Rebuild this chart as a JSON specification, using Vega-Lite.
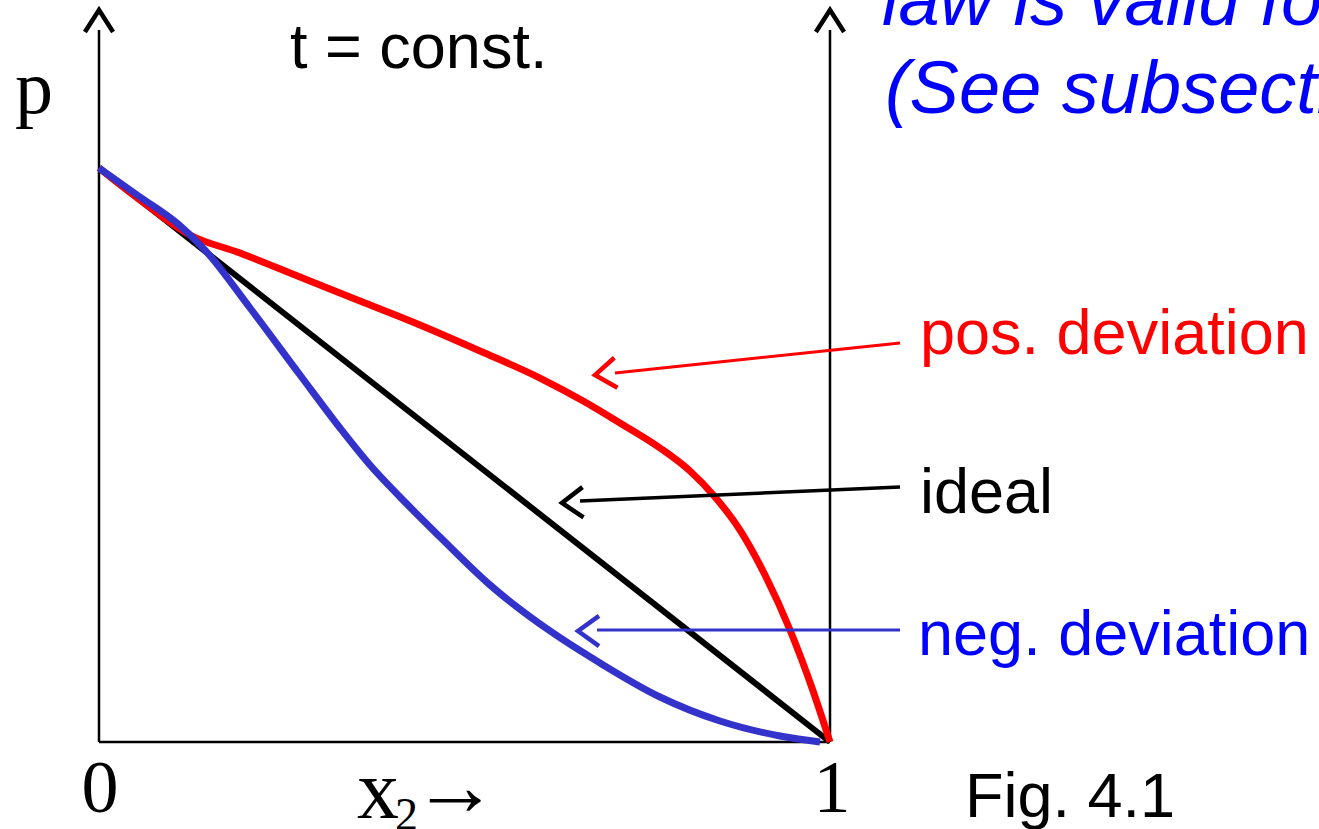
{
  "$schema": "https://vega.github.io/schema/vega-lite/v6.json",
  "width": 1319,
  "height": 829,
  "autosize": {"type": "none"},
  "padding": 0,
  "background": "#ffffff",
  "config": {"view": {"stroke": null}},
  "datasets": {
    "curves": [
      {"series": "ideal", "i": 0, "x2mol": 0, "p": 1},
      {"series": "ideal", "i": 1, "x2mol": 1, "p": 0},
      {"series": "pos", "i": 0, "x2mol": 0, "p": 1},
      {"series": "pos", "i": 1, "x2mol": 0.0561, "p": 0.9443},
      {"series": "pos", "i": 2, "x2mol": 0.1245, "p": 0.8833},
      {"series": "pos", "i": 3, "x2mol": 0.1929, "p": 0.8519},
      {"series": "pos", "i": 4, "x2mol": 0.275, "p": 0.8101},
      {"series": "pos", "i": 5, "x2mol": 0.357, "p": 0.7683},
      {"series": "pos", "i": 6, "x2mol": 0.4391, "p": 0.7265},
      {"series": "pos", "i": 7, "x2mol": 0.5212, "p": 0.6812},
      {"series": "pos", "i": 8, "x2mol": 0.6033, "p": 0.6341},
      {"series": "pos", "i": 9, "x2mol": 0.6648, "p": 0.5923},
      {"series": "pos", "i": 10, "x2mol": 0.7127, "p": 0.5557},
      {"series": "pos", "i": 11, "x2mol": 0.7674, "p": 0.5122},
      {"series": "pos", "i": 12, "x2mol": 0.8085, "p": 0.4721},
      {"series": "pos", "i": 13, "x2mol": 0.8427, "p": 0.4268},
      {"series": "pos", "i": 14, "x2mol": 0.8769, "p": 0.3693},
      {"series": "pos", "i": 15, "x2mol": 0.9111, "p": 0.2909},
      {"series": "pos", "i": 16, "x2mol": 0.9453, "p": 0.1951},
      {"series": "pos", "i": 17, "x2mol": 0.9754, "p": 0.0941},
      {"series": "pos", "i": 18, "x2mol": 1, "p": 0},
      {"series": "neg", "i": 0, "x2mol": 0, "p": 1},
      {"series": "neg", "i": 1, "x2mol": 0.0561, "p": 0.9495},
      {"series": "neg", "i": 2, "x2mol": 0.1081, "p": 0.9024},
      {"series": "neg", "i": 3, "x2mol": 0.145, "p": 0.8571},
      {"series": "neg", "i": 4, "x2mol": 0.2066, "p": 0.7561},
      {"series": "neg", "i": 5, "x2mol": 0.275, "p": 0.6394},
      {"series": "neg", "i": 6, "x2mol": 0.3297, "p": 0.547},
      {"series": "neg", "i": 7, "x2mol": 0.3707, "p": 0.4826},
      {"series": "neg", "i": 8, "x2mol": 0.4118, "p": 0.4268},
      {"series": "neg", "i": 9, "x2mol": 0.4665, "p": 0.3571},
      {"series": "neg", "i": 10, "x2mol": 0.5349, "p": 0.2735},
      {"series": "neg", "i": 11, "x2mol": 0.617, "p": 0.1934},
      {"series": "neg", "i": 12, "x2mol": 0.6854, "p": 0.1376},
      {"series": "neg", "i": 13, "x2mol": 0.7674, "p": 0.0784},
      {"series": "neg", "i": 14, "x2mol": 0.8495, "p": 0.0366},
      {"series": "neg", "i": 15, "x2mol": 0.9316, "p": 0.0105},
      {"series": "neg", "i": 16, "x2mol": 0.9863, "p": 0}
    ],
    "frame": [
      {"part": "left", "xa": 0, "xb": 0, "ya": 0, "yb": 1.2404},
      {"part": "right", "xa": 1, "xb": 1, "ya": 0, "yb": 1.2404},
      {"part": "bottom", "xa": 0, "xb": 1, "ya": 0, "yb": 0}
    ],
    "tips": [
      {"part": "left", "x": 0, "y": 1.2753},
      {"part": "right", "x": 1, "y": 1.2753}
    ],
    "pointers": [
      {"name": "pos", "xa": 0.7059, "ya": 0.6429, "xb": 1.0958, "yb": 0.6951, "tipx": 0.6785, "tipy": 0.6394},
      {"name": "ideal", "xa": 0.658, "ya": 0.4199, "xb": 1.0958, "yb": 0.4443, "tipx": 0.6334, "tipy": 0.4164},
      {"name": "neg", "xa": 0.6813, "ya": 0.1951, "xb": 1.0958, "yb": 0.1951, "tipx": 0.6553, "tipy": 0.1934}
    ],
    "labels": [
      {"role": "black", "label": "t = const.", "x": 0.2613, "y": 1.1742},
      {"role": "black", "label": "ideal", "x": 1.1231, "y": 0.399},
      {"role": "black", "label": "Fig. 4.1", "x": 1.1847, "y": -0.1307},
      {"role": "red", "label": "pos. deviation", "x": 1.1231, "y": 0.676},
      {"role": "blue", "label": "neg. deviation", "x": 1.1204, "y": 0.1516},
      {"role": "note", "label": "law is valid for", "x": 1.0711, "y": 1.2491},
      {"role": "note", "label": "(See subsection", "x": 1.0752, "y": 1.0958},
      {"role": "tick", "label": "0", "x": 0.0014, "y": -0.122},
      {"role": "tick", "label": "1", "x": 1.0027, "y": -0.122},
      {"role": "ptitle", "label": "p", "x": -0.1149, "y": 1.0958},
      {"role": "xtitle", "label": "x", "x": 0.3529, "y": -0.1324},
      {"role": "xsub", "label": "2", "x": 0.4049, "y": -0.1533},
      {"role": "xarrow", "label": "→", "x": 0.4282, "y": -0.0819}
    ]
  },
  "encoding": {
    "x": {"type": "quantitative", "scale": {"domain": [-0.135431, 1.668947], "nice": false, "zero": false}, "axis": null},
    "y": {"type": "quantitative", "scale": {"domain": [-0.151568, 1.292683], "nice": false, "zero": false}, "axis": null}
  },
  "layer": [
    {
      "data": {"name": "frame"},
      "mark": {"type": "rule", "color": "#000000", "strokeWidth": 2.5},
      "encoding": {
        "x": {"field": "xa", "type": "quantitative"},
        "x2": {"field": "xb"},
        "y": {"field": "ya", "type": "quantitative"},
        "y2": {"field": "yb"}
      }
    },
    {
      "data": {"name": "tips"},
      "mark": {"type": "point", "shape": "M-0.64,1 L0,0 L0.64,1", "size": 1936, "filled": false, "stroke": "#000000", "strokeWidth": 4.5, "strokeJoin": "miter", "strokeCap": "butt", "opacity": 1},
      "encoding": {
        "x": {"field": "x", "type": "quantitative"},
        "y": {"field": "y", "type": "quantitative"}
      }
    },
    {
      "data": {"name": "curves"},
      "transform": [{"filter": "datum.series === 'ideal'"}],
      "mark": {"type": "line", "color": "#000000", "strokeWidth": 6},
      "encoding": {
        "x": {"field": "x2mol", "type": "quantitative"},
        "y": {"field": "p", "type": "quantitative"},
        "order": {"field": "i", "type": "quantitative"}
      }
    },
    {
      "data": {"name": "curves"},
      "transform": [{"filter": "datum.series === 'pos'"}],
      "mark": {"type": "line", "color": "#ff0000", "strokeWidth": 7, "interpolate": "monotone"},
      "encoding": {
        "x": {"field": "x2mol", "type": "quantitative"},
        "y": {"field": "p", "type": "quantitative"},
        "order": {"field": "i", "type": "quantitative"}
      }
    },
    {
      "data": {"name": "curves"},
      "transform": [{"filter": "datum.series === 'neg'"}],
      "mark": {"type": "line", "color": "#3333cc", "strokeWidth": 7, "interpolate": "monotone"},
      "encoding": {
        "x": {"field": "x2mol", "type": "quantitative"},
        "y": {"field": "p", "type": "quantitative"},
        "order": {"field": "i", "type": "quantitative"}
      }
    },
    {
      "data": {"name": "pointers"},
      "transform": [{"filter": "datum.name === 'pos'"}],
      "layer": [
        {"mark": {"type": "rule", "color": "#ff0000", "strokeWidth": 3},
         "encoding": {"x": {"field": "xa", "type": "quantitative"}, "x2": {"field": "xb"}, "y": {"field": "ya", "type": "quantitative"}, "y2": {"field": "yb"}}},
        {"mark": {"type": "point", "shape": "M1,-0.72 L0,0 L1,0.72", "size": 1764, "angle": -6, "filled": false, "stroke": "#ff0000", "strokeWidth": 4.5, "strokeJoin": "miter", "opacity": 1},
         "encoding": {"x": {"field": "tipx", "type": "quantitative"}, "y": {"field": "tipy", "type": "quantitative"}}}
      ]
    },
    {
      "data": {"name": "pointers"},
      "transform": [{"filter": "datum.name === 'ideal'"}],
      "layer": [
        {"mark": {"type": "rule", "color": "#000000", "strokeWidth": 3.5},
         "encoding": {"x": {"field": "xa", "type": "quantitative"}, "x2": {"field": "xb"}, "y": {"field": "ya", "type": "quantitative"}, "y2": {"field": "yb"}}},
        {"mark": {"type": "point", "shape": "M1,-0.72 L0,0 L1,0.72", "size": 1764, "angle": -2, "filled": false, "stroke": "#000000", "strokeWidth": 4.5, "strokeJoin": "miter", "opacity": 1},
         "encoding": {"x": {"field": "tipx", "type": "quantitative"}, "y": {"field": "tipy", "type": "quantitative"}}}
      ]
    },
    {
      "data": {"name": "pointers"},
      "transform": [{"filter": "datum.name === 'neg'"}],
      "layer": [
        {"mark": {"type": "rule", "color": "#3333cc", "strokeWidth": 3},
         "encoding": {"x": {"field": "xa", "type": "quantitative"}, "x2": {"field": "xb"}, "y": {"field": "ya", "type": "quantitative"}, "y2": {"field": "yb"}}},
        {"mark": {"type": "point", "shape": "M1,-0.72 L0,0 L1,0.72", "size": 1764, "angle": 0, "filled": false, "stroke": "#3333cc", "strokeWidth": 4.5, "strokeJoin": "miter", "opacity": 1},
         "encoding": {"x": {"field": "tipx", "type": "quantitative"}, "y": {"field": "tipy", "type": "quantitative"}}}
      ]
    },
    {
      "data": {"name": "labels"},
      "transform": [{"filter": "datum.role === 'black'"}],
      "mark": {"type": "text", "font": "Liberation Sans", "fontSize": 63, "color": "#000000", "align": "left", "baseline": "alphabetic"},
      "encoding": {"x": {"field": "x", "type": "quantitative"}, "y": {"field": "y", "type": "quantitative"}, "text": {"field": "label"}}
    },
    {
      "data": {"name": "labels"},
      "transform": [{"filter": "datum.role === 'red'"}],
      "mark": {"type": "text", "font": "Liberation Sans", "fontSize": 63, "color": "#ff0000", "align": "left", "baseline": "alphabetic"},
      "encoding": {"x": {"field": "x", "type": "quantitative"}, "y": {"field": "y", "type": "quantitative"}, "text": {"field": "label"}}
    },
    {
      "data": {"name": "labels"},
      "transform": [{"filter": "datum.role === 'blue'"}],
      "mark": {"type": "text", "font": "Liberation Sans", "fontSize": 63, "color": "#0000ff", "align": "left", "baseline": "alphabetic"},
      "encoding": {"x": {"field": "x", "type": "quantitative"}, "y": {"field": "y", "type": "quantitative"}, "text": {"field": "label"}}
    },
    {
      "data": {"name": "labels"},
      "transform": [{"filter": "datum.role === 'note'"}],
      "mark": {"type": "text", "font": "Liberation Sans", "fontSize": 74, "fontStyle": "italic", "color": "#0000ff", "align": "left", "baseline": "alphabetic"},
      "encoding": {"x": {"field": "x", "type": "quantitative"}, "y": {"field": "y", "type": "quantitative"}, "text": {"field": "label"}}
    },
    {
      "data": {"name": "labels"},
      "transform": [{"filter": "datum.role === 'tick'"}],
      "mark": {"type": "text", "font": "Liberation Serif", "fontSize": 74, "color": "#000000", "align": "center", "baseline": "alphabetic"},
      "encoding": {"x": {"field": "x", "type": "quantitative"}, "y": {"field": "y", "type": "quantitative"}, "text": {"field": "label"}}
    },
    {
      "data": {"name": "labels"},
      "transform": [{"filter": "datum.role === 'ptitle'"}],
      "mark": {"type": "text", "font": "Liberation Serif", "fontSize": 76, "color": "#000000", "align": "left", "baseline": "alphabetic"},
      "encoding": {"x": {"field": "x", "type": "quantitative"}, "y": {"field": "y", "type": "quantitative"}, "text": {"field": "label"}}
    },
    {
      "data": {"name": "labels"},
      "transform": [{"filter": "datum.role === 'xtitle'"}],
      "mark": {"type": "text", "font": "Liberation Serif", "fontSize": 84, "color": "#000000", "align": "left", "baseline": "alphabetic"},
      "encoding": {"x": {"field": "x", "type": "quantitative"}, "y": {"field": "y", "type": "quantitative"}, "text": {"field": "label"}}
    },
    {
      "data": {"name": "labels"},
      "transform": [{"filter": "datum.role === 'xsub'"}],
      "mark": {"type": "text", "font": "Liberation Serif", "fontSize": 46, "color": "#000000", "align": "left", "baseline": "alphabetic"},
      "encoding": {"x": {"field": "x", "type": "quantitative"}, "y": {"field": "y", "type": "quantitative"}, "text": {"field": "label"}}
    },
    {
      "data": {"name": "labels"},
      "transform": [{"filter": "datum.role === 'xarrow'"}],
      "mark": {"type": "text", "font": "Liberation Serif", "fontSize": 86, "color": "#000000", "align": "left", "baseline": "middle"},
      "encoding": {"x": {"field": "x", "type": "quantitative"}, "y": {"field": "y", "type": "quantitative"}, "text": {"field": "label"}}
    }
  ]
}
